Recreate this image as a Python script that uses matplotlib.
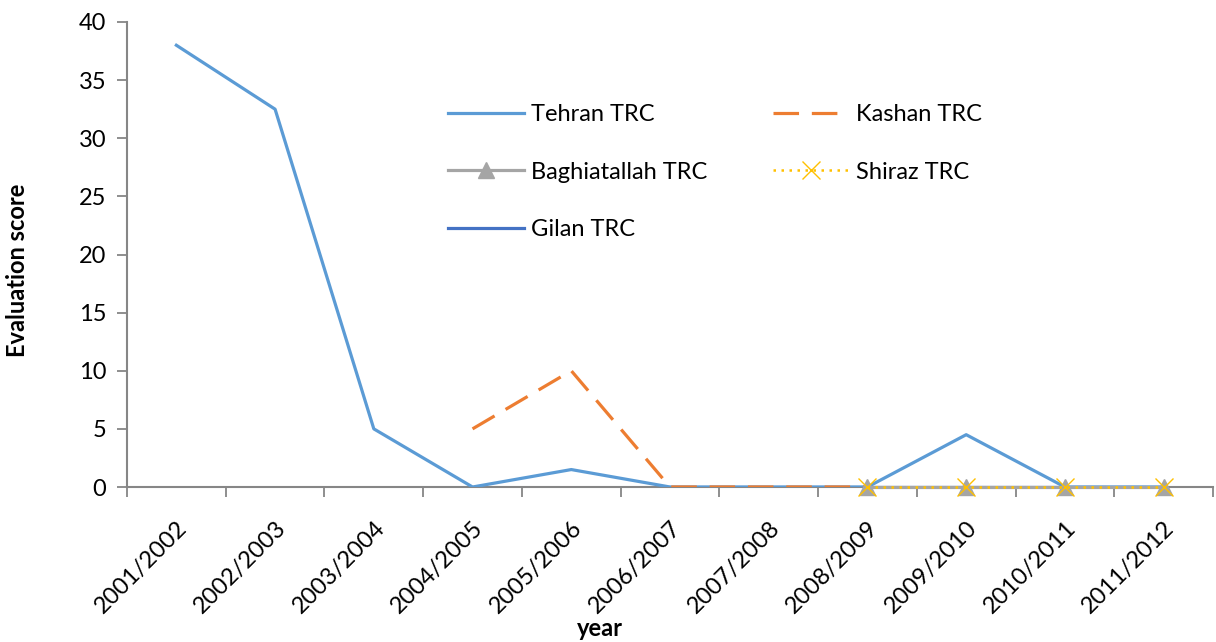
import numpy as np
import matplotlib
matplotlib.use("Agg")
import matplotlib.pyplot as plt

years = ["2001/2002", "2002/2003", "2003/2004", "2004/2005", "2005/2006", "2006/2007",
         "2007/2008", "2008/2009", "2009/2010", "2010/2011", "2011/2012"]
nan = np.nan
tehran = [38, 32.5, 5, 0, 1.5, 0, 0, 0, 4.5, 0, 0]
kashan = [nan, nan, nan, 5, 10, 0, 0, 0, nan, nan, nan]
baghiatallah = [nan, nan, nan, nan, nan, nan, nan, 0, 0, 0, 0]
shiraz = [nan, nan, nan, nan, nan, nan, nan, 0, 0, 0, 0]
gilan = [nan, nan, nan, nan, nan, 0, 0, 0, 0, 0, 0]

plt.rcParams['font.family'] = ['Lato', 'DejaVu Sans']

fig = plt.figure(figsize=(12.16, 6.42), dpi=100)
ax = fig.add_axes([127/1216, 1 - 487/642, (1213-127)/1216, (487-22)/642])

x = np.arange(len(years))
lw = 2.3
ax.plot(x, gilan, color='#4472C4', lw=lw, label='Gilan TRC', zorder=2)
ax.plot(x, tehran, color='#5B9BD5', lw=lw, label='Tehran TRC', zorder=3)
ax.plot(x, kashan, color='#ED7D31', lw=lw, dashes=(8, 4), label='Kashan TRC', zorder=4)
ax.plot(x, baghiatallah, color='#A5A5A5', lw=lw, marker='^', markersize=12,
        markeredgecolor='#A5A5A5', label='Baghiatallah TRC', zorder=5, clip_on=False)
ax.plot(x, shiraz, color='#FFC000', lw=1.8, ls=(0, (1, 2.2)), marker='x', markersize=13,
        markeredgewidth=1.0, label='Shiraz TRC', zorder=6, clip_on=False)

ax.set_xlim(-0.5, len(years) - 0.5)
ax.set_ylim(0, 40)
ax.set_yticks(np.arange(0, 41, 5))
ax.set_xticks(np.arange(-0.5, len(years), 1.0))
ax.set_xticklabels([])
ax.set_xticks(x, minor=True)
ax.set_xticklabels(years, minor=True, rotation=45, ha='right', va='top',
                   rotation_mode='anchor', fontsize=17, color='#000000')
ax.tick_params(axis='x', which='minor', length=0, pad=22)
ax.tick_params(axis='x', which='major', length=7, color='#868686', width=1.3, direction='out')
ax.tick_params(axis='y', length=7, color='#868686', width=1.3, labelsize=17, pad=8)

for s in ['top', 'right']:
    ax.spines[s].set_visible(False)
for s in ['left', 'bottom']:
    ax.spines[s].set_color('#868686')
    ax.spines[s].set_linewidth(1.5)
    ax.spines[s].set_zorder(1)

ax.set_ylabel('Evaluation score', fontsize=17, fontweight='bold')
ax.yaxis.set_label_coords(-0.090, 0.467)
fig.text(600/1216, 1 - 628/642, 'year', fontsize=17, fontweight='bold',
         ha='center', va='center')

handles, labels = ax.get_legend_handles_labels()
order = ['Tehran TRC', 'Baghiatallah TRC', 'Gilan TRC', 'Kashan TRC', 'Shiraz TRC']
hmap = dict(zip(labels, handles))
ax.legend([hmap[o] for o in order], order, ncol=2, frameon=False, fontsize=17,
          loc='upper left', bbox_to_anchor=(0.276, 0.869), handlelength=3.2,
          columnspacing=2.8, labelspacing=1.54, handletextpad=0.3)

fig.savefig('out.png', dpi=100)
